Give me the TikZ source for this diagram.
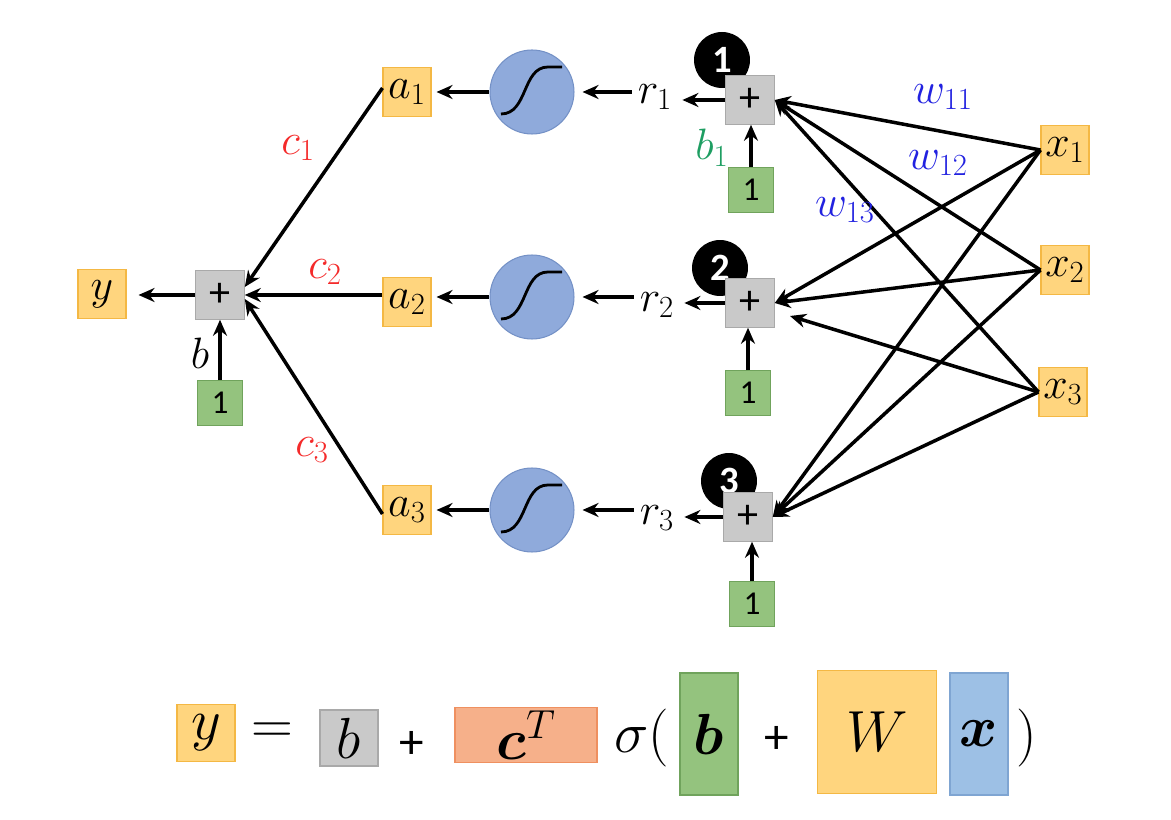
\RequirePackage{fix-cm}
\documentclass[tikz,border=0pt]{standalone}
\usepackage{amsmath}
\usepackage{fontspec}
\newfontfamily\calibri{Carlito}
\usetikzlibrary{calc, arrows.meta}
\tikzset{>={Stealth[length=0.32cm, width=0.28cm]}}
\definecolor{goldfill}{HTML}{FFD57E}
\definecolor{goldline}{HTML}{F4B844}
\definecolor{grayfill}{HTML}{C9C9C9}
\definecolor{grayline}{HTML}{A9A9A9}
\definecolor{greenfill}{HTML}{94C37E}
\definecolor{greenline}{HTML}{70A35C}
\definecolor{sigfill}{HTML}{8FAADB}
\definecolor{sigline}{HTML}{7491C6}
\definecolor{salmonfill}{HTML}{F6B08A}
\definecolor{salmonline}{HTML}{EF9060}
\definecolor{skyfill}{HTML}{9DC0E5}
\definecolor{skyline}{HTML}{7FA5D2}
\definecolor{cred}{HTML}{F42A2A}
\definecolor{wblue}{HTML}{2222E0}
\definecolor{bgreen}{HTML}{1E9E62}

\begin{document}
\begin{tikzpicture}[x=0.02cm, y=-0.02cm, font=\fontsize{25}{29}\selectfont,
    varbox/.style={draw=goldline, fill=goldfill, line width=0.6pt, minimum width=0.96cm, minimum height=0.98cm, inner sep=0pt},
    sumbox/.style={draw=grayline, fill=grayfill, line width=0.6pt, minimum size=0.97cm, inner sep=0pt, font=\calibri\fontsize{24}{24}\selectfont},
    onebox/.style={draw=greenline, fill=greenfill, line width=0.6pt, minimum size=0.89cm, inner sep=0pt, font=\calibri\fontsize{19}{19}\selectfont},
    sigm/.style={circle, draw=sigline, fill=sigfill, line width=0.6pt, minimum size=1.68cm, inner sep=0pt},
    tag/.style={circle, fill=black, text=white, minimum size=1.12cm, inner sep=0pt, font=\calibri\bfseries\fontsize{22}{22}\selectfont},
    link/.style={->, line width=2pt},
    tall/.style={line width=0.6pt, minimum width=1.16cm, minimum height=2.44cm, inner sep=0pt},
    eqn/.style={font=\fontsize{33}{37}\selectfont}]
  \useasboundingbox (0,0) rectangle (1171,820);

  % output side
  \node[varbox] (y) at (102,294) {$y$};
  \node[sumbox] (s) at (220,295) {+};
  \node[onebox] (one) at (220,403) {1};
  \draw[link] (s.west) -- ($(s.west -| y.east)+(12,0)$);
  \draw[link] (one.north) -- (s.south);
  \node (blab) at (200,353) {$b$};

  % hidden units
  \foreach \i/\ya/\yc/\xr/\yr in {1/92/92/655/97, 2/302/297/657/305, 3/510/510/657/518} {
    \node[varbox] (a\i) at (407,\ya) {$a_{\i}$};
    \node[sigm] (g\i) at (532,\yc) {};
    \draw[line width=1.6pt] ($(g\i)+(-31,22)$) .. controls ($(g\i)+(-4,22)$) and ($(g\i)+(-10,-25)$) .. ($(g\i)+(16,-25)$) -- ($(g\i)+(30,-25)$);
    \node (r\i) at (\xr,\yr) {$r_{\i}$};
    \draw[link] (g\i.west) -- ($(g\i.west -| a\i.east)+(5,0)$);
    \draw[link] (r\i.west |- g\i) -- ($(g\i.east)+(8,0)$);
  }

  % weights c
  \draw[link] ($(a1.west)+(0,-4)$) -- ($(s.east)+(0,-8)$);
  \draw[link] (a2.west |- s.east) -- (s.east);
  \draw[link] ($(a3.west)+(0,4)$) -- ($(s.east)+(0,4)$);
  \node[text=cred] (c1) at (298,148) {$c_1$};
  \node[text=cred] (c2) at (325,272) {$c_2$};
  \node[text=cred] (c3) at (312,450) {$c_3$};

  % first layer
  \node[tag] (t1) at (722,60) {1};
  \node[tag] (t2) at (720,268) {2};
  \node[tag] (t3) at (729,481) {3};
  \node[sumbox] (s1) at (750,100) {+};
  \node[sumbox] (s2) at (750,303) {+};
  \node[sumbox] (s3) at (748,517) {+};
  \node[onebox] (o1) at (751,190) {1};
  \node[onebox] (o2) at (748,393) {1};
  \node[onebox] (o3) at (752,604) {1};
  \foreach \i in {1,2,3} {
    \draw[link] (s\i.west) -- ($(s\i.west -| r\i.east)+(4,0)$);
    \draw[link] (o\i.north) -- (o\i.north |- s\i.south);
  }
  \node[text=bgreen] (b1lab) at (712,148) {$b_1$};

  % inputs
  \node[varbox] (x1) at (1065,150) {$x_1$};
  \node[varbox] (x2) at (1065,270) {$x_2$};
  \node[varbox] (x3) at (1063,392) {$x_3$};
  \coordinate (s2in) at (790,316);
  \foreach \j in {1,2,3} {
    \draw[link] (x\j.west) -- (s1.east);
    \draw[link] (x\j.west) -- (s3.east);
  }
  \draw[link] (x1.west) -- (s2.east);
  \draw[link] (x2.west) -- (s2.east);
  \draw[link] (x3.west) -- (s2in);
  \node[text=wblue] (w11) at (943,97) {$w_{11}$};
  \node[text=wblue] (w12) at (938,163) {$w_{12}$};
  \node[text=wblue] (w13) at (845,210) {$w_{13}$};

  % formula
  \node[eqn, draw=goldline, fill=goldfill, line width=0.6pt, minimum width=1.16cm, minimum height=1.14cm, inner sep=0pt] (fy) at (206,733) {$y$};
  \node[eqn] (feq) at (272,733) {$=$};
  \node[eqn, draw=grayline, fill=grayfill, line width=0.6pt, minimum width=1.16cm, minimum height=1.12cm, inner sep=0pt] (fb) at (349,738) {$b$};
  \node[font=\calibri\fontsize{28}{28}\selectfont] (fp1) at (412,745) {+};
  \node[eqn, draw=salmonline, fill=salmonfill, line width=0.6pt, minimum width=2.84cm, minimum height=1.1cm, inner sep=0pt] (fc) at (526,735) {$\boldsymbol{c}^T$};
  \node[eqn] (fsig) at (642,738) {$\sigma($};
  \node[eqn, tall, draw=greenline, fill=greenfill] (fbb) at (709,734) {$\boldsymbol{b}$};
  \node[font=\calibri\fontsize{28}{28}\selectfont] (fp2) at (777,740) {+};
  \node[eqn, tall, draw=goldline, fill=goldfill, minimum width=2.38cm, minimum height=2.46cm] (fw) at (877,732) {$W$};
  \node[eqn, tall, draw=skyline, fill=skyfill] (fx) at (979,734) {$\boldsymbol{x}$};
  \node[eqn] (fclose) at (1027,738) {$)$};
\end{tikzpicture}
\end{document}
